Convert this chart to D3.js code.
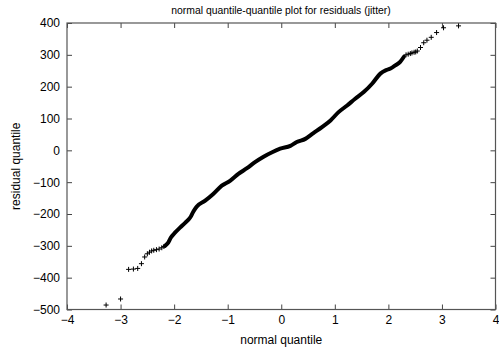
<!DOCTYPE html>
<html>
<head>
<meta charset="utf-8">
<script src="https://cdn.jsdelivr.net/npm/d3@7"></script>
<style>
  body { margin: 0; background: #fff; }
  text { font-family: "Liberation Sans", Arial, sans-serif; fill: #000; }
</style>
</head>
<body>
<svg id="chart"></svg>
<script>
// values: [normal quantile, residual quantile]
const lowerTail = [
	[-3.27, -486], [-3.0, -467], [-2.85, -374], [-2.76, -373], [-2.68, -371],
	[-2.61, -356], [-2.55, -335], [-2.50, -325], [-2.46, -320], [-2.42, -316],
	[-2.38, -314], [-2.33, -312], [-2.28, -310], [-2.23, -306], [-2.19, -302]
];
const body = [
	[-2.17, -300], [-2.11, -290], [-2.06, -274], [-1.98, -258], [-1.89, -243],
	[-1.79, -227], [-1.70, -211], [-1.64, -192], [-1.58, -177], [-1.42, -158],
	[-1.27, -137], [-1.11, -111], [-0.95, -95], [-0.80, -74], [-0.64, -56],
	[-0.49, -37], [-0.33, -20], [-0.17, -6], [-0.02, 5], [0.17, 14],
	[0.29, 26], [0.45, 36], [0.60, 54], [0.76, 73], [0.92, 94],
	[1.07, 120], [1.23, 141], [1.38, 162], [1.54, 183], [1.70, 210],
	[1.85, 241], [1.96, 252], [2.04, 257], [2.13, 267], [2.22, 278], [2.29, 294]
];
const upperTail = [
	[2.33, 300], [2.37, 302], [2.41, 304], [2.44, 306], [2.48, 308], [2.51, 309],
	[2.54, 312], [2.60, 323], [2.66, 338], [2.72, 346], [2.80, 355],
	[2.90, 370], [3.03, 385], [3.31, 391]
];
const xTicks = [-4, -3, -2, -1, 0, 1, 2, 3, 4];
const yTicks = [-500, -400, -300, -200, -100, 0, 100, 200, 300, 400];
const title = "normal quantile-quantile plot for residuals (jitter)";
const xLabel = "normal quantile";
const yLabel = "residual quantile";

const width = 499;
const height = 355;
const plotLeft = 67, plotRight = 495.5, plotTop = 23, plotBottom = 309.5;

const svg = d3.select("#chart")
	.attr("width", width)
	.attr("height", height);

const xScale = d3.scaleLinear().domain([-4, 4]).range([plotLeft, plotRight]);
const yScale = d3.scaleLinear().domain([-500, 400]).range([plotBottom, plotTop]);

// axes with inward ticks, mirrored on top and right like gnuplot
const xAxis = d3.axisBottom(xScale).tickValues(xTicks).tickSizeInner(-5).tickSizeOuter(0).tickPadding(6);
const yAxis = d3.axisLeft(yScale).tickValues(yTicks).tickSizeInner(-5).tickSizeOuter(0).tickPadding(7);
const xTop = d3.axisTop(xScale).tickValues(xTicks).tickSizeInner(-5).tickSizeOuter(0).tickFormat("");
const yRight = d3.axisRight(yScale).tickValues(yTicks).tickSizeInner(-5).tickSizeOuter(0).tickFormat("");

function style(g) {
	g.select(".domain").remove();
	g.selectAll(".tick line").attr("stroke", "#444");
	g.selectAll(".tick text")
		.attr("font-size", 12)
		.attr("font-family", "Liberation Sans, Arial, sans-serif");
}

svg.append("g").attr("transform", `translate(0, ${plotBottom})`).call(xAxis).call(style);
svg.append("g").attr("transform", `translate(${plotLeft}, 0)`).call(yAxis).call(style);
svg.append("g").attr("transform", `translate(0, ${plotTop})`).call(xTop).call(style);
svg.append("g").attr("transform", `translate(${plotRight}, 0)`).call(yRight).call(style);

svg.append("rect")
	.attr("x", plotLeft).attr("y", plotTop)
	.attr("width", plotRight - plotLeft).attr("height", plotBottom - plotTop)
	.attr("fill", "none")
	.attr("stroke", "#555")
	.attr("stroke-width", 1.2);

// dense middle: overlapping markers drawn as a thick stroke
const line = d3.line()
	.x(d => xScale(d[0]))
	.y(d => yScale(d[1]))
	.curve(d3.curveMonotoneX);

svg.append("path")
	.datum(body)
	.attr("d", line)
	.attr("fill", "none")
	.attr("stroke", "#000")
	.attr("stroke-width", 4)
	.attr("stroke-linejoin", "round")
	.attr("stroke-linecap", "round");

svg.append("g")
	.selectAll("path")
	.data(lowerTail.concat(upperTail))
	.join("path")
	.attr("transform", d => `translate(${xScale(d[0])}, ${yScale(d[1])})`)
	.attr("d", "M-2.5,0H2.5M0,-2.5V2.5")
	.attr("stroke", "#000")
	.attr("stroke-width", 1)
	.attr("fill", "none");

svg.append("text")
	.attr("x", 281)
	.attr("y", 14)
	.attr("text-anchor", "middle")
	.attr("font-size", 10.4)
	.text(title);

svg.append("text")
	.attr("x", (plotLeft + plotRight) / 2)
	.attr("y", 344)
	.attr("text-anchor", "middle")
	.attr("font-size", 12)
	.text(xLabel);

svg.append("text")
	.attr("transform", `translate(20, ${(plotTop + plotBottom) / 2}) rotate(-90)`)
	.attr("text-anchor", "middle")
	.attr("font-size", 12)
	.text(yLabel);
</script>
</body>
</html>
